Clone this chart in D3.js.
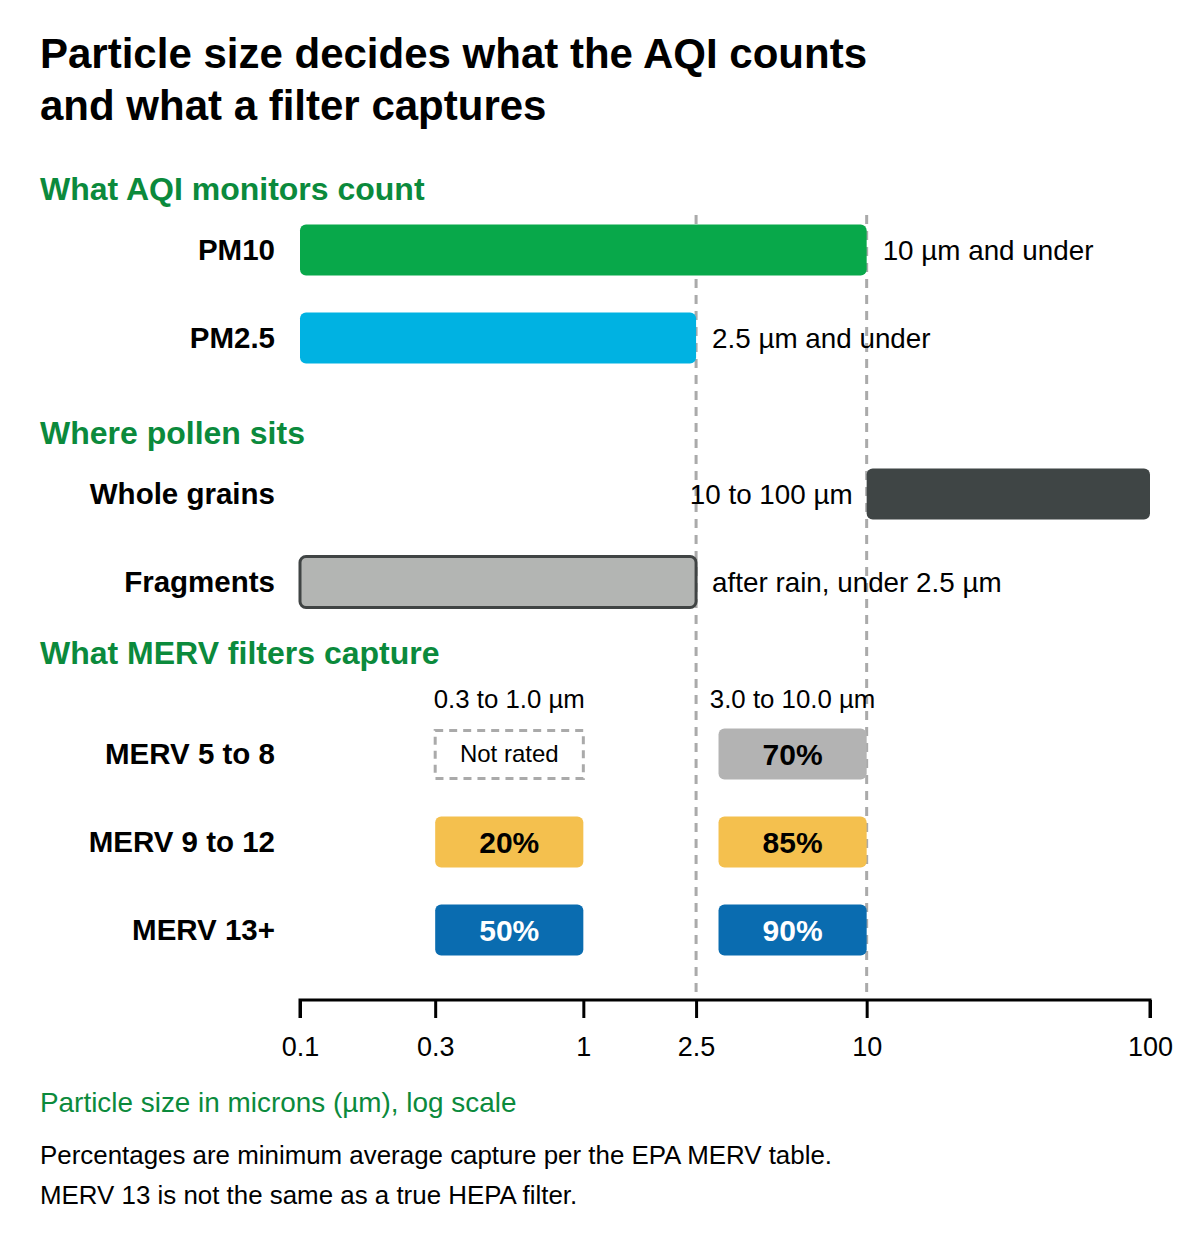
<!DOCTYPE html>
<html>
<head>
<meta charset="utf-8">
<script src="https://cdn.jsdelivr.net/npm/d3@7"></script>
<style>
  body { margin: 0; background: #fff; }
  svg { font-family: "Liberation Sans", Arial, Helvetica, sans-serif; }
</style>
</head>
<body>
<div id="chart"></div>
<script>
// data
const aqiBars = [
  { name: "PM10",  lo: 0.1, hi: 10,  label: "10 µm and under" },
  { name: "PM2.5", lo: 0.1, hi: 2.5, label: "2.5 µm and under" }
];
const pollenBars = [
  { name: "Whole grains", lo: 10,  hi: 100, label: "10 to 100 µm" },
  { name: "Fragments",    lo: 0.1, hi: 2.5, label: "after rain, under 2.5 µm" }
];
const mervRows = ["MERV 5 to 8", "MERV 9 to 12", "MERV 13+"];
const mervBands = [
  { label: "0.3 to 1.0 µm", lo: 0.3, hi: 1 },
  { label: "3.0 to 10.0 µm", lo: 3, hi: 10 }
];
// capture % per row, per band (null = not rated)
const mervValues = [
  [null, 70],
  [20, 85],
  [50, 90]
];
const cutoffs = [2.5, 10];
const tickValues = [0.1, 0.3, 1, 2.5, 10, 100];

const W = 1200, H = 1240;
const svg = d3.select("#chart").append("svg")
  .attr("width", W)
  .attr("height", H);

const x = d3.scaleLog().domain([0.1, 100]).range([300, 1150]);
const barH = 51;
const green = "#0b8a3c";

// title
svg.append("text").attr("x", 40).attr("y", 68)
  .style("font-size", "42px").style("font-weight", "bold")
  .text("Particle size decides what the AQI counts");
svg.append("text").attr("x", 40).attr("y", 120)
  .style("font-size", "42px").style("font-weight", "bold")
  .text("and what a filter captures");

// section heads
const heads = [
  { t: "What AQI monitors count", y: 200 },
  { t: "Where pollen sits", y: 444 },
  { t: "What MERV filters capture", y: 664 }
];
svg.selectAll(".head").data(heads).enter().append("text")
  .attr("x", 40).attr("y", d => d.y)
  .attr("fill", green)
  .style("font-size", "32px").style("font-weight", "bold")
  .text(d => d.t);

// dashed cutoff lines
svg.selectAll(".cut").data(cutoffs).enter().append("line")
  .attr("x1", d => x(d)).attr("x2", d => x(d))
  .attr("y1", 215).attr("y2", 998)
  .attr("stroke", "#aaaaaa")
  .attr("stroke-width", 3)
  .attr("stroke-dasharray", "9,7");

function rowLabel(name, cy) {
  svg.append("text")
    .attr("x", 275).attr("y", cy)
    .attr("dy", "0.35em")
    .attr("text-anchor", "end")
    .style("font-size", "29.5px").style("font-weight", "bold")
    .text(name);
}

// AQI bars
const aqiY = [250, 338];
const aqiColors = ["#08a84a", "#00b2e2"];
aqiBars.forEach((d, i) => {
  rowLabel(d.name, aqiY[i]);
  svg.append("rect")
    .attr("x", x(d.lo)).attr("y", aqiY[i] - barH / 2)
    .attr("width", x(d.hi) - x(d.lo)).attr("height", barH)
    .attr("rx", 6)
    .attr("fill", aqiColors[i]);
  svg.append("text")
    .attr("x", x(d.hi) + 16).attr("y", aqiY[i])
    .attr("dy", "0.35em")
    .style("font-size", "27.8px")
    .text(d.label);
});

// pollen bars
const pollenY = [494, 582];
pollenBars.forEach((d, i) => {
  rowLabel(d.name, pollenY[i]);
  const r = svg.append("rect")
    .attr("x", x(d.lo)).attr("y", pollenY[i] - barH / 2)
    .attr("width", x(d.hi) - x(d.lo)).attr("height", barH)
    .attr("rx", 6);
  if (i === 0) {
    r.attr("fill", "#3f4545");
    svg.append("text")
      .attr("x", x(d.lo) - 14).attr("y", pollenY[i])
      .attr("dy", "0.35em")
      .attr("text-anchor", "end")
      .style("font-size", "27.8px")
      .text(d.label);
  } else {
    r.attr("fill", "#b3b5b3")
      .attr("stroke", "#404444")
      .attr("stroke-width", 3);
    svg.append("text")
      .attr("x", x(d.hi) + 16).attr("y", pollenY[i])
      .attr("dy", "0.35em")
      .style("font-size", "27.8px")
      .text(d.label);
  }
});

// MERV section
svg.selectAll(".band").data(mervBands).enter().append("text")
  .attr("x", d => (x(d.lo) + x(d.hi)) / 2)
  .attr("y", 699).attr("dy", "0.35em")
  .attr("text-anchor", "middle")
  .style("font-size", "25.8px")
  .text(d => d.label);

const mervY = [754, 842, 930];
const rowColors = ["#b3b3b3", "#f4c04e", "#0a6cb0"];
const rowText = ["#000", "#000", "#fff"];
mervRows.forEach((name, i) => {
  rowLabel(name, mervY[i]);
  mervBands.forEach((b, j) => {
    const v = mervValues[i][j];
    const bx = x(b.lo), bw = x(b.hi) - x(b.lo);
    if (v === null) {
      svg.append("rect")
        .attr("x", bx).attr("y", mervY[i] - barH / 2 + 2)
        .attr("width", bw).attr("height", barH - 3)
        .attr("fill", "none")
        .attr("stroke", "#aaaaaa")
        .attr("stroke-width", 3)
        .attr("stroke-dasharray", "8,6");
      svg.append("text")
        .attr("x", bx + bw / 2).attr("y", mervY[i])
        .attr("dy", "0.35em").attr("text-anchor", "middle")
        .style("font-size", "24px")
        .text("Not rated");
    } else {
      svg.append("rect")
        .attr("x", bx).attr("y", mervY[i] - barH / 2)
        .attr("width", bw).attr("height", barH)
        .attr("rx", 6)
        .attr("fill", rowColors[i]);
      svg.append("text")
        .attr("x", bx + bw / 2).attr("y", mervY[i])
        .attr("dy", "0.35em").attr("text-anchor", "middle")
        .attr("fill", rowText[i])
        .style("font-size", "30px").style("font-weight", "bold")
        .text(v + "%");
    }
  });
});

// axis
const axis = svg.append("g")
  .attr("transform", "translate(0,1000)")
  .call(d3.axisBottom(x)
    .tickValues(tickValues)
    .tickFormat(d => String(d))
    .tickSize(18)
    .tickPadding(19));
axis.select(".domain")
  .attr("d", `M${x(0.1)},18V0H${x(100)}V18`)
  .attr("stroke", "#000").attr("stroke-width", 3);
axis.selectAll(".tick line").attr("stroke", "#000").attr("stroke-width", 3);
axis.selectAll(".tick text")
  .style("font-size", "27px")
  .style("font-family", "Liberation Sans, Arial, sans-serif")
  .attr("fill", "#000");

// axis title + notes
svg.append("text").attr("x", 40).attr("y", 1112)
  .attr("fill", green)
  .style("font-size", "27.9px")
  .text("Particle size in microns (µm), log scale");
svg.append("text").attr("x", 40).attr("y", 1164)
  .style("font-size", "25.9px")
  .text("Percentages are minimum average capture per the EPA MERV table.");
svg.append("text").attr("x", 40).attr("y", 1204)
  .style("font-size", "25.9px")
  .text("MERV 13 is not the same as a true HEPA filter.");
</script>
</body>
</html>
